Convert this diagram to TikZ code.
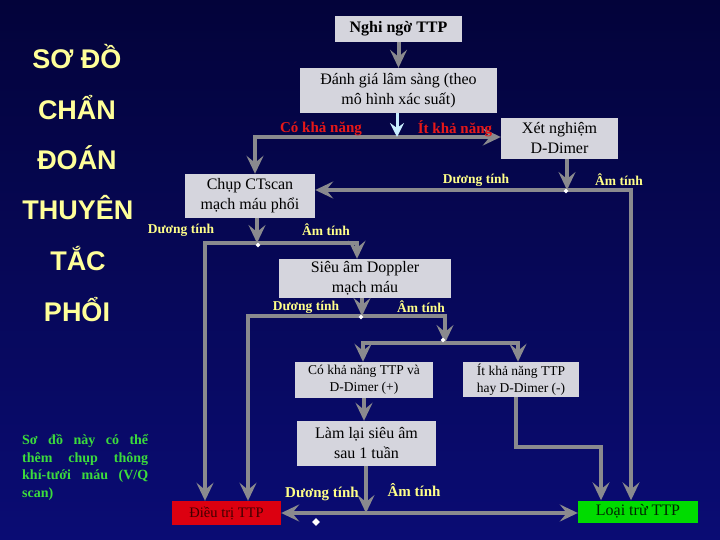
\documentclass[tikz,border=0pt]{standalone}
\usepackage{fontspec}
\setmainfont{Liberation Serif}
\newfontfamily\titlefont{Liberation Sans}
\usetikzlibrary{arrows.meta,shapes.geometric,calc}
\definecolor{bgtop}{HTML}{03033A}
\definecolor{bgbot}{HTML}{0A0C74}
\definecolor{boxgray}{HTML}{D5D5DD}
\definecolor{linegray}{HTML}{8A8A8E}
\definecolor{labyellow}{HTML}{FFFF88}
\definecolor{labred}{HTML}{E81818}
\definecolor{titleyellow}{HTML}{FFFF99}
\definecolor{notegreen}{HTML}{3CDC3C}
\definecolor{boxred}{HTML}{DC0010}
\definecolor{boxgreen}{HTML}{00DC00}
\definecolor{arrcyan}{HTML}{C8EEFF}
\begin{document}
\begin{tikzpicture}[x=1pt,y=-1pt,
 box/.style={fill=boxgray,text=black,align=center,inner sep=0pt,font=\fontsize{16}{20}\selectfont},
 smallbox/.style={box,font=\fontsize{13.5}{17}\selectfont},
 conn/.style={draw=linegray,line width=4pt},
 arr/.style={conn,-{Stealth[length=18pt,width=17pt,inset=7pt]}},
 ylab/.style={text=labyellow,font=\bfseries\fontsize{13.5}{15}\selectfont,inner sep=0pt},
 ylabbig/.style={ylab,font=\bfseries\fontsize{15}{17}\selectfont},
 rlab/.style={text=labred,font=\bfseries\fontsize{15}{17}\selectfont,inner sep=0pt},
 ttl/.style={text=titleyellow,font=\titlefont\bfseries\fontsize{27}{30}\selectfont,anchor=base,inner sep=0pt},
 spark/.style={diamond,fill=white,inner sep=0pt,minimum size=5pt}
]
\useasboundingbox (0,0) rectangle (720,540);
\shade[top color=bgtop,bottom color=bgbot] (0,0) rectangle (720,540);

% title
\node[ttl] (t1) at (77,69) {SƠ ĐỒ};
\node[ttl] (t2) at (77,119.5) {CHẨN};
\node[ttl] (t3) at (77,170) {ĐOÁN};
\node[ttl] (t4) at (78,220) {THUYÊN};
\node[ttl] (t5) at (78,270.5) {TẮC};
\node[ttl] (t6) at (77,321) {PHỔI};

% note
\node[text=notegreen,font=\bfseries\fontsize{14}{17.7}\selectfont,text width=126pt,align=justify,anchor=north west,inner sep=0pt] (note) at (22,434)
 {Sơ đồ này có thể\linebreak thêm chụp thông\linebreak khí-tưới máu (V/Q\linebreak scan)};

% boxes
\node[box,minimum width=127,minimum height=26,font=\bfseries\fontsize{16}{20}\selectfont] (nghi) at (398.5,29) {Nghi ngờ TTP};
\node[box,minimum width=197,minimum height=45] (dg) at (398.5,90.5) {Đánh giá lâm sàng (theo\\mô hình xác suất)};
\node[box,minimum width=117,minimum height=41] (dd) at (559.5,138.5) {Xét nghiệm\\D-Dimer};
\node[box,minimum width=130,minimum height=44] (ct) at (250,196) {Chụp CTscan\\mạch máu phổi};
\node[box,minimum width=172,minimum height=39] (sa) at (365,278.5) {Siêu âm Doppler\\mạch máu};
\node[smallbox,minimum width=138,minimum height=36] (ck) at (364,380) {Có khả năng TTP và\\D-Dimer (+)};
\node[smallbox,minimum width=116,minimum height=35] (ik) at (521,379.5) {Ít khả năng TTP\\hay D-Dimer (-)};
\node[box,minimum width=139,minimum height=45] (ll) at (366.5,443.5) {Làm lại siêu âm\\sau 1 tuần};
\node[box,fill=boxred,text=black!75!red,minimum width=109,minimum height=24,font=\fontsize{14.5}{17}\selectfont] (dt) at (226.5,513) {Điều trị TTP};
\node[box,fill=boxgreen,text=black!85!green,minimum width=120,minimum height=22] (lt) at (638,511.5) {Loại trừ TTP};

% connectors
\draw[arr] (nghi.south) -- (dg.north);
\coordinate (j1) at (397,137);
\draw[arr] (j1) -| ([xshift=5pt]ct.north);
\draw[arr] (j1) -- (j1 -| dd.west);
\draw[line width=3pt,draw=arrcyan,-{Stealth[length=14pt,width=14pt,inset=5pt]}] (dg.south -| j1) -- (j1);

\coordinate (j2) at (567,190);
\draw[arr] (dd.south -| j2) -- (j2);
\draw[arr] (j2) -- (ct.east |- j2);
\draw[arr] (j2) -| ([xshift=-7pt]lt.north);

\coordinate (j3) at (257,243);
\draw[arr] (ct.south -| j3) -- (j3);
\draw[arr] (j3) -| ([xshift=-21.5pt]dt.north);
\draw[arr] (j3) -| ([xshift=-8pt]sa.north);

\coordinate (j4) at (362,316);
\draw[arr] (sa.south -| j4) -- (j4);
\draw[arr] (j4) -| ([xshift=21.5pt]dt.north);
\coordinate (j5) at (445,343);
\draw[arr] (j4) -| (j5);
\draw[arr] (j5) -| ([xshift=-1pt]ck.north);
\draw[arr] (j5) -| ([xshift=-3pt]ik.north);

\draw[arr] (ck.south) -- (ck.south |- ll.north);

\coordinate (j6) at (366,513);
\draw[arr] (ll.south -| j6) -- (j6);
\draw[arr] (j6) -- (dt.east);
\draw[arr] (j6) -- (lt.west |- j6);

\coordinate (k1) at (516,447);
\coordinate (k2) at (601,447);
\draw[arr] (ik.south -| k1) -- (k1) -- (k2) -- (k2 |- lt.north);

% labels
\node[rlab] (lc) at (321,129) {Có khả năng};
\node[rlab] (li) at (455,129) {Ít khả năng};
\node[ylab] (l1) at (476,180) {Dương tính};
\node[ylab] (l2) at (619,180) {Âm tính};
\node[ylab] (l3) at (181,230) {Dương tính};
\node[ylab] (l4) at (326,230) {Âm tính};
\node[ylab] (l5) at (306,307) {Dương tính};
\node[ylab] (l6) at (421,307) {Âm tính};
\node[ylabbig] (l7) at (322,494) {Dương tính};
\node[ylabbig] (l8) at (414,490) {Âm tính};

% sparkles
\node[spark] (s1) at (258,245) {};
\node[spark] (s2) at (566,191) {};
\node[spark] (s3) at (361,317) {};
\node[spark] (s4) at (443,340) {};
\node[spark,minimum size=8pt] (s5) at (316,522) {};
\end{tikzpicture}
\end{document}
